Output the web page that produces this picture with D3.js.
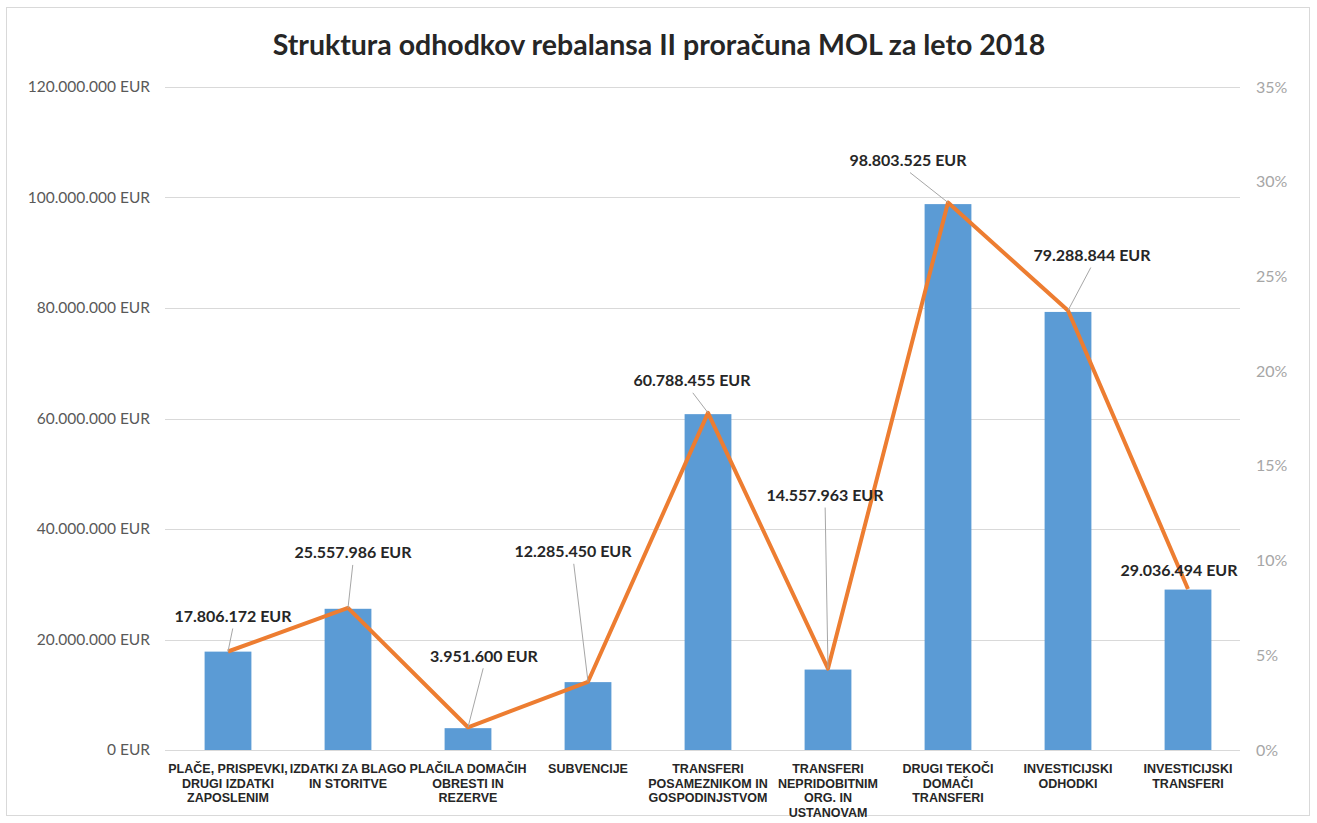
<!DOCTYPE html>
<html>
<head>
<meta charset="utf-8">
<style>
  body { margin: 0; background: #fff; }
  svg { display: block; }
  .grid line { stroke: #d9d9d9; }
  .axis-left text { fill: #595959; font: 15.5px Lato, sans-serif; }
  .axis-right text { fill: #a6a6a6; font: 16px Lato, sans-serif; }
  .cat { fill: #262626; font: bold 12.5px "Liberation Sans Narrow", "Liberation Sans", sans-serif; }
  .dlabel { fill: #262626; font: bold 16px Lato, sans-serif; }
</style>
</head>
<body>
<script src="https://d3js.org/d3.v7.min.js"></script>
<script>
// data
const categories = [
  ['PLAČE, PRISPEVKI,', 'DRUGI IZDATKI', 'ZAPOSLENIM'],
  ['IZDATKI ZA BLAGO', 'IN STORITVE'],
  ['PLAČILA DOMAČIH', 'OBRESTI IN', 'REZERVE'],
  ['SUBVENCIJE'],
  ['TRANSFERI', 'POSAMEZNIKOM IN', 'GOSPODINJSTVOM'],
  ['TRANSFERI', 'NEPRIDOBITNIM', 'ORG. IN', 'USTANOVAM'],
  ['DRUGI TEKOČI', 'DOMAČI', 'TRANSFERI'],
  ['INVESTICIJSKI', 'ODHODKI'],
  ['INVESTICIJSKI', 'TRANSFERI']
];
const amounts = [17806172, 25557986, 3951600, 12285450, 60788455, 14557963, 98803525, 79288844, 29036494];
const shares = [5.2, 7.5, 1.2, 3.6, 17.8, 4.3, 28.9, 23.2, 8.5];
const leftTicks = [0, 20000000, 40000000, 60000000, 80000000, 100000000, 120000000];
const rightTicks = [0, 5, 10, 15, 20, 25, 30, 35];
const title = 'Struktura odhodkov rebalansa II proračuna MOL za leto 2018';

// label nudges relative to line point (layout only)
const labelNudge = [[5, -35], [5, -55], [16, -71], [-15, -130], [-16, -32], [-3, -173], [-40, -42], [24, -55], [-9, -18]];

const W = 1317, H = 823;
const x0 = 168, x1 = 1248, yBottom = 750, yTop = 87;

const si = d3.formatLocale({ decimal: ',', thousands: '.', grouping: [3], currency: ['', ' EUR'] });
const fmt = si.format(',');

const svg = d3.select('body').append('svg').attr('width', W).attr('height', H);

// frame
svg.append('rect').attr('x', 6.5).attr('y', 7.5).attr('width', 1303).attr('height', 808)
  .attr('fill', 'none').attr('stroke', '#d9d9d9');

svg.append('text').attr('x', 659).attr('y', 55).attr('text-anchor', 'middle')
  .style('font', 'bold 28.5px Lato, sans-serif').attr('fill', '#262626').text(title);

const x = d3.scaleBand().domain(d3.range(amounts.length)).range([x0, x1]).paddingInner(0.61).paddingOuter(0.305);
const yL = d3.scaleLinear().domain([0, 120000000]).range([yBottom, yTop]);
const yR = d3.scaleLinear().domain([0, 35]).range([yBottom, yTop]);

// grid
svg.append('g').attr('class', 'grid').selectAll('line').data(leftTicks).join('line')
  .attr('x1', 165).attr('x2', 1240)
  .attr('y1', d => Math.round(yL(d)) + 0.5).attr('y2', d => Math.round(yL(d)) + 0.5);

svg.append('g').attr('class', 'axis-left').attr('transform', 'translate(150,0)')
  .call(d3.axisLeft(yL).tickValues(leftTicks).tickSize(0).tickPadding(0).tickFormat(d => fmt(d) + ' EUR'))
  .call(g => g.select('.domain').remove());

svg.append('g').attr('class', 'axis-right').attr('transform', 'translate(1256,0)')
  .call(d3.axisRight(yR).tickValues(rightTicks).tickSize(0).tickPadding(0).tickFormat(d => d + '%'))
  .call(g => g.select('.domain').remove());

// bars
svg.append('g').selectAll('rect').data(amounts).join('rect')
  .attr('x', (d, i) => x(i)).attr('width', x.bandwidth())
  .attr('y', d => yL(d)).attr('height', d => yL(0) - yL(d))
  .attr('fill', '#5b9bd5');

// category labels
const cx = i => x(i) + x.bandwidth() / 2;
svg.append('g').selectAll('text').data(categories).join('text')
  .attr('class', 'cat').attr('text-anchor', 'middle')
  .attr('transform', (d, i) => `translate(${cx(i)},773)`)
  .selectAll('tspan').data(d => d).join('tspan')
  .attr('x', 0).attr('dy', (d, j) => j ? 14.5 : 0).text(d => d);

// share line
const line = d3.line().x((d, i) => cx(i)).y(d => yR(d));
svg.append('path').datum(shares).attr('d', line)
  .attr('fill', 'none').attr('stroke', '#ed7d31').attr('stroke-width', 4).attr('stroke-linejoin', 'round');

// data labels and leader lines
const lab = svg.append('g');
amounts.forEach((v, i) => {
  const px = cx(i), py = yR(shares[i]);
  const lx = px + labelNudge[i][0], ly = py + labelNudge[i][1];
  if (Math.abs(labelNudge[i][1]) > 25) {
    lab.append('line').attr('x1', lx + (px - lx) * 0.05).attr('y1', ly + 12)
      .attr('x2', px).attr('y2', py).attr('stroke', '#a6a6a6').attr('stroke-width', 1);
  }
  lab.append('text').attr('class', 'dlabel').attr('x', lx).attr('y', ly + 5.5)
    .attr('text-anchor', 'middle').text(fmt(v) + ' EUR');
});
</script>
</body>
</html>
